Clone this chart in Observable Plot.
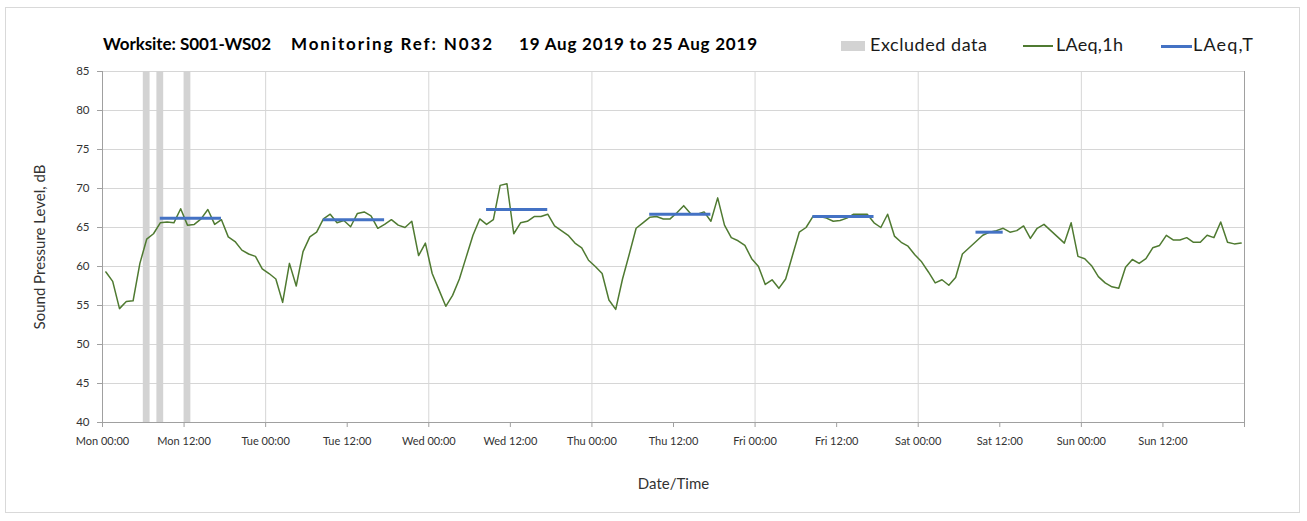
<!DOCTYPE html>
<html>
<head>
<meta charset="utf-8">
<script src="https://cdn.jsdelivr.net/npm/d3@7"></script>
<script src="https://cdn.jsdelivr.net/npm/@observablehq/plot@0.6"></script>
<style>
  html, body { margin: 0; padding: 0; background: #fff; }
  #wrap { position: relative; width: 1307px; height: 521px; font-family: Lato, "Open Sans", sans-serif; color: #000; }
  #border { position: absolute; left: 5px; top: 7px; width: 1295px; height: 506px; border: 1px solid #d9d9d9; box-sizing: border-box; pointer-events: none; }
  .t { position: absolute; white-space: pre; }
  .title { font-weight: 700; font-size: 17px; top: 33px; }
  .leg { font-size: 18px; top: 33px; color: #1a1a1a; }
  .sw { position: absolute; }
  #chart { position: absolute; left: 0; top: 0; }
</style>
</head>
<body>
<div id="wrap">
  <div id="border"></div>
  <div id="chart"></div>
</div>
<script>
// ---- Data ----
const titleParts = ["Worksite: S001-WS02", "Monitoring Ref: N032", "19 Aug 2019 to 25 Aug 2019"];
const legendLabels = ["Excluded data", "LAeq,1h", "LAeq,T"];
const xTickLabels = ["Mon 00:00","Mon 12:00","Tue 00:00","Tue 12:00","Wed 00:00","Wed 12:00","Thu 00:00","Thu 12:00","Fri 00:00","Fri 12:00","Sat 00:00","Sat 12:00","Sun 00:00","Sun 12:00",""];
const xTickHours = [0,12,24,36,48,60,72,84,96,108,120,132,144,156,168];
const dayGridHours = [24,48,72,96,120,144];
const yTicks = [40,45,50,55,60,65,70,75,80,85];

// hourly LAeq,1h values (hour index 0..167 from Mon 00:00)
const laeq1h = [
  59.3,58.1,54.6,55.5,55.6,60.4,63.5,64.2,65.6,65.7,65.6,67.4,65.3,65.4,66.1,67.3,65.4,66.0,63.8,63.2,62.1,61.6,61.3,59.7,
  59.1,58.4,55.4,60.4,57.5,61.9,63.8,64.4,66.1,66.7,65.6,65.9,65.1,66.8,67.0,66.5,64.9,65.4,66.0,65.3,65.0,65.8,61.4,63.0,
  59.1,57.0,54.9,56.3,58.4,61.2,64.0,66.1,65.4,66.0,70.4,70.6,64.2,65.6,65.8,66.4,66.4,66.7,65.2,64.6,64.0,63.0,62.4,60.8,
  60.0,59.1,55.7,54.5,58.4,61.6,64.9,65.6,66.3,66.4,66.1,66.1,66.9,67.8,66.8,66.7,67.0,65.8,68.8,65.3,63.7,63.3,62.7,61.0,
  60.0,57.7,58.3,57.2,58.4,61.4,64.4,65.0,66.4,66.4,66.2,65.8,65.9,66.2,66.7,66.7,66.7,65.6,65.0,66.7,63.9,63.1,62.6,61.5,
  60.6,59.3,57.9,58.3,57.6,58.6,61.6,62.4,63.2,64.0,64.4,64.6,64.9,64.4,64.6,65.2,63.6,64.9,65.4,64.6,63.8,63.0,65.6,61.3,
  61.0,60.1,58.7,57.9,57.4,57.2,59.9,60.9,60.4,61.0,62.4,62.7,64.0,63.4,63.4,63.7,63.1,63.1,64.0,63.7,65.7,63.1,62.9,63.0
];
// LAeq,T periods (first and last hour index) and values
const laeqTStart = [8, 32, 56, 80, 104, 128];
const laeqTEnd   = [17, 41, 65, 89, 113, 132];
const laeqTValue = [66.2, 66.0, 67.3, 66.7, 66.4, 64.4];
// excluded hours
const excludedHours = [6, 8, 12];

// ---- Colours ----
const cGreen = "#4f7a31", cBlue = "#4472c4", cExcl = "#d3d3d3", cGrid = "#d6d6d6", cAxis = "#a0a0a0";

const lineData = laeq1h.map((v, i) => ({h: i + 0.5, v}));
const tData = laeqTValue.map((v, i) => ({x1: laeqTStart[i] + 0.5, x2: laeqTEnd[i] + 0.5, v}));
const exData = excludedHours.map(h => ({x1: h, x2: h + 1}));
const labelOf = new Map(xTickHours.map((h, i) => [h, xTickLabels[i]]));

const chart = Plot.plot({
  width: 1307,
  height: 521,
  marginTop: 71,
  marginLeft: 102,
  marginRight: 63,
  marginBottom: 99,
  style: {fontFamily: "Lato, 'Open Sans', sans-serif", fontSize: "11px", color: "#333", background: "transparent"},
  x: {type: "linear", domain: [0, 168]},
  y: {domain: [40, 85]},
  marks: [
    Plot.gridY(yTicks.slice(1), {stroke: cGrid, strokeOpacity: 1}),
    Plot.gridX(dayGridHours, {stroke: cGrid, strokeOpacity: 1}),
    Plot.rect(exData, {x1: "x1", x2: "x2", y1: 40, y2: 85, fill: cExcl}),
    Plot.ruleX([0, 168], {stroke: cAxis}),
    Plot.ruleY([40], {stroke: cAxis}),
    Plot.axisY({ticks: yTicks, tickSize: 5, tickPadding: 8, stroke: cAxis, label: null, fill: "#333", fontSize: 11.5}),
    Plot.axisX({ticks: xTickHours, tickSize: 5, tickPadding: 10, stroke: cAxis, label: null, fill: "#333", fontSize: 11,
      tickFormat: d => labelOf.get(d) ?? ""}),
    Plot.line(lineData, {x: "h", y: "v", stroke: cGreen, strokeWidth: 1.5}),
    Plot.ruleY(tData, {y: "v", x1: "x1", x2: "x2", stroke: cBlue, strokeWidth: 3}),
    Plot.text(["Sound Pressure Level, dB"], {frameAnchor: "left", textAnchor: "middle", dx: -62, rotate: -90, fontSize: 15, fill: "#333"}),
    Plot.text(["Date/Time"], {frameAnchor: "bottom", dy: 66, fontSize: 15, fill: "#333"})
  ]
});
document.getElementById("chart").appendChild(chart);

// ---- Title and legend (HTML) ----
const wrap = document.getElementById("wrap");
function fitText(cls, left, right, text) {
  const d = document.createElement("div");
  d.className = "t " + cls;
  d.style.left = left + "px";
  d.textContent = text;
  wrap.appendChild(d);
  const w = d.getBoundingClientRect().width;
  const n = Math.max(1, text.length - 1);
  d.style.letterSpacing = ((right - left - w) / n) + "px";
  return d;
}
const titleSpans = [[103, 271], [291, 492], [519, 757]];
titleParts.forEach((t, i) => fitText("title", titleSpans[i][0], titleSpans[i][1], t));

function sw(left, top, w, h, color) {
  const d = document.createElement("div");
  d.className = "sw";
  Object.assign(d.style, {left: left + "px", top: top + "px", width: w + "px", height: h + "px", background: color});
  wrap.appendChild(d);
}
sw(841, 41, 24, 10, cExcl); fitText("leg", 870, 987, legendLabels[0]);
sw(1023, 45, 30, 1.5, cGreen); fitText("leg", 1056, 1123, legendLabels[1]);
sw(1161, 44.5, 31, 3, cBlue); fitText("leg", 1193, 1253, legendLabels[2]);
</script>
</body>
</html>
